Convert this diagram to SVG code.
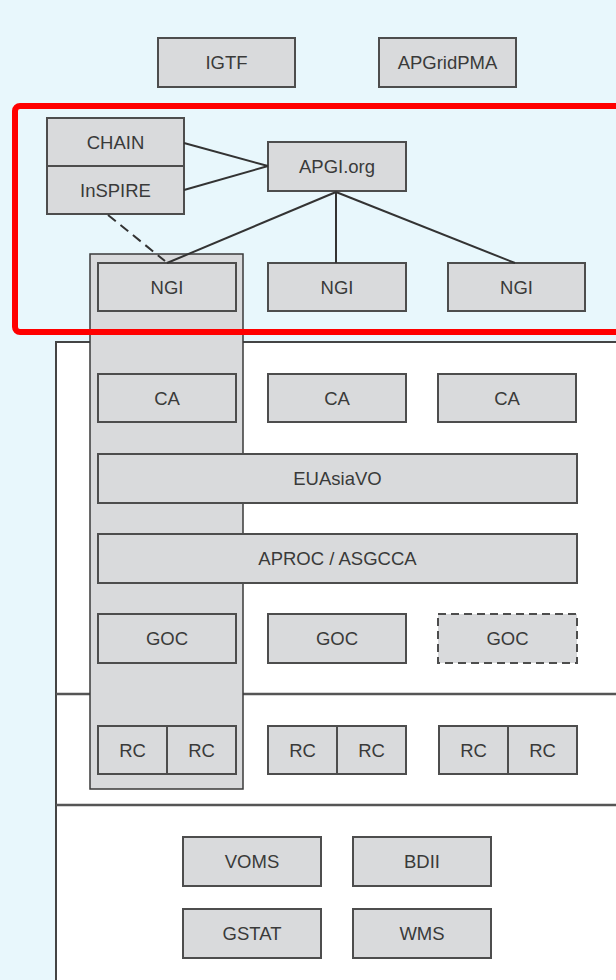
<svg xmlns="http://www.w3.org/2000/svg" width="616" height="980" viewBox="0 0 616 980">
<style>
.b{fill:#d9dadc;stroke:#4d4d4d;stroke-width:2}
.t{font-family:"Liberation Sans",Arial,sans-serif;font-size:18.5px;fill:#3a3a3a;text-anchor:middle}
.c{stroke:#333;stroke-width:2;fill:none}
</style>
<rect x="0" y="0" width="616" height="980" fill="#e8f7fc"/>
<g id="panel">
<rect x="56" y="342" width="600" height="650" fill="#fff" stroke="#444" stroke-width="2"/>
<line x1="56" y1="694" x2="616" y2="694" stroke="#555" stroke-width="2.5"/>
<line x1="56" y1="805" x2="616" y2="805" stroke="#555" stroke-width="2.5"/>
</g>
<g id="ngi-column"><rect x="90" y="254" width="153" height="535" fill="#d9dadc" stroke="#3a3a3a" stroke-width="1.5"/></g>
<g id="igtf"><rect class="b" x="158" y="38" width="137" height="49"/><text class="t" x="226.5" y="69">IGTF</text></g>
<g id="apgridpma"><rect class="b" x="379" y="38" width="137" height="49"/><text class="t" x="447.5" y="69">APGridPMA</text></g>
<g id="chain"><rect class="b" x="47" y="118" width="137" height="48"/><text class="t" x="115.5" y="148.5">CHAIN</text></g>
<g id="inspire"><rect class="b" x="47" y="166" width="137" height="48"/><text class="t" x="115.5" y="196.5">InSPIRE</text></g>
<g id="apgi"><rect class="b" x="268" y="142" width="138" height="49"/><text class="t" x="337" y="173">APGI.org</text></g>
<g id="ngi1"><rect class="b" x="98" y="263" width="138" height="48"/><text class="t" x="167" y="293.5">NGI</text></g>
<g id="ngi2"><rect class="b" x="268" y="263" width="138" height="48"/><text class="t" x="337" y="293.5">NGI</text></g>
<g id="ngi3"><rect class="b" x="448" y="263" width="137" height="48"/><text class="t" x="516.5" y="293.5">NGI</text></g>
<g id="ca1"><rect class="b" x="98" y="374" width="138" height="48"/><text class="t" x="167" y="404.5">CA</text></g>
<g id="ca2"><rect class="b" x="268" y="374" width="138" height="48"/><text class="t" x="337" y="404.5">CA</text></g>
<g id="ca3"><rect class="b" x="438" y="374" width="138" height="48"/><text class="t" x="507" y="404.5">CA</text></g>
<g id="euasiavo"><rect class="b" x="98" y="454" width="479" height="49"/><text class="t" x="337.5" y="485">EUAsiaVO</text></g>
<g id="aproc"><rect class="b" x="98" y="534" width="479" height="49"/><text class="t" x="337.5" y="565">APROC / ASGCCA</text></g>
<g id="goc1"><rect class="b" x="98" y="614" width="138" height="49"/><text class="t" x="167" y="645">GOC</text></g>
<g id="goc2"><rect class="b" x="268" y="614" width="138" height="49"/><text class="t" x="337" y="645">GOC</text></g>
<g id="goc3"><rect class="b" x="438" y="614" width="139" height="49" stroke-dasharray="8,5" stroke="#666"/><text class="t" x="507.5" y="645">GOC</text></g>
<g id="rc1"><rect class="b" x="98" y="726" width="69" height="48"/><text class="t" x="132.5" y="756.5">RC</text><rect class="b" x="167" y="726" width="69" height="48"/><text class="t" x="201.5" y="756.5">RC</text></g>
<g id="rc2"><rect class="b" x="268" y="726" width="69" height="48"/><text class="t" x="302.5" y="756.5">RC</text><rect class="b" x="337" y="726" width="69" height="48"/><text class="t" x="371.5" y="756.5">RC</text></g>
<g id="rc3"><rect class="b" x="439" y="726" width="69" height="48"/><text class="t" x="473.5" y="756.5">RC</text><rect class="b" x="508" y="726" width="69" height="48"/><text class="t" x="542.5" y="756.5">RC</text></g>
<g id="voms"><rect class="b" x="183" y="837" width="138" height="49"/><text class="t" x="252" y="868">VOMS</text></g>
<g id="bdii"><rect class="b" x="353" y="837" width="138" height="49"/><text class="t" x="422" y="868">BDII</text></g>
<g id="gstat"><rect class="b" x="183" y="909" width="138" height="49"/><text class="t" x="252" y="940">GSTAT</text></g>
<g id="wms"><rect class="b" x="353" y="909" width="138" height="49"/><text class="t" x="422" y="940">WMS</text></g>
<g id="connectors">
<line class="c" x1="184" y1="143" x2="268" y2="166"/>
<line class="c" x1="184" y1="190" x2="268" y2="166"/>
<line class="c" x1="336" y1="192" x2="167" y2="263"/>
<line class="c" x1="336" y1="192" x2="336" y2="263" stroke="#555"/>
<line class="c" x1="336" y1="192" x2="515" y2="263"/>
<line class="c" x1="108" y1="215" x2="165" y2="261" stroke-dasharray="10,6" stroke="#444"/>
</g>
<g id="highlight"><rect x="15" y="106" width="620" height="226" rx="5" fill="none" stroke="#ff0000" stroke-width="6"/></g>
</svg>
